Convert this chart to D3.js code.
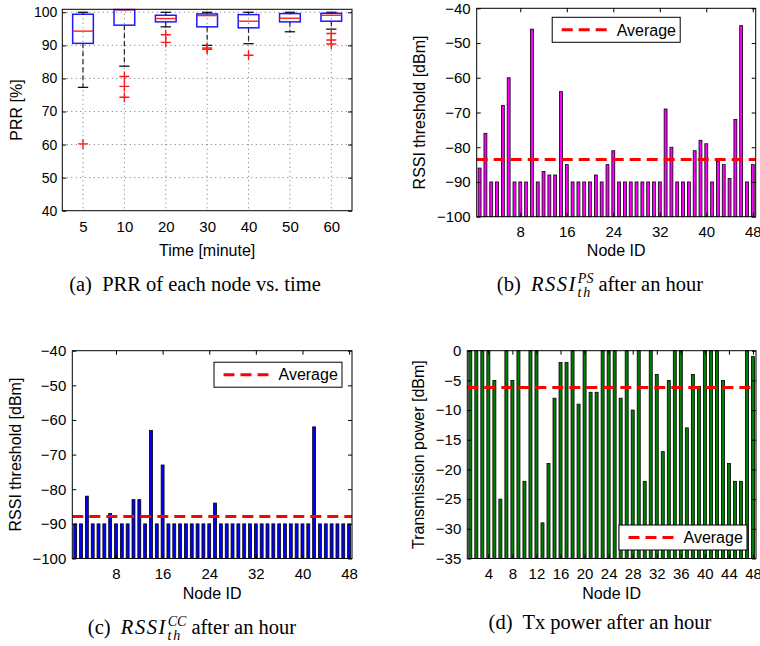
<!DOCTYPE html>
<html>
<head>
<meta charset="utf-8">
<script src="https://cdn.jsdelivr.net/npm/d3@7"></script>
<style>
  body { margin: 0; background: #fff; }
  svg text { font-family: "Liberation Sans", Arial, sans-serif; }
  .cap { font-family: "Liberation Serif", "Times New Roman", serif; font-size: 20.5px; white-space: pre; }
</style>
</head>
<body>
<svg id="fig" width="760" height="646"></svg>
<script>
// ---- (a) PRR boxplot ----
const times = ["5", "10", "20", "30", "40", "50", "60"];
const prrQ1 = [90.6, 96.1, 97.1, 95.6, 95.3, 97.1, 97.3];
const prrMed = [94.3, 100.8, 98.1, 99.0, 97.3, 98.2, 99.1];
const prrQ3 = [99.4, 100.8, 99.1, 99.5, 99.3, 99.6, 99.7];
const prrLo = [77.3, 83.7, 95.6, 90.0, 90.5, 94.1, 94.9];
const prrHi = [100, 100.8, 100, 100, 100, 100, 100];
const prrOut = [[60.2], [80.6, 77.6, 74.3], [93.2, 90.9], [89.2, 88.8], [87.0], [], [93.6, 91.6, 90.4]];
const prrTicks = [40, 50, 60, 70, 80, 90, 100];

// ---- (b) RSSI_th^PS per node ----
const rssiPS = [-86, -76, -90, -90, -68, -60, -90, -90, -90, -46,
                -90, -87, -88, -88, -64, -85, -90, -90, -90, -90,
                -88, -90, -85, -81, -90, -90, -90, -90, -90, -90,
                -90, -90, -69, -80, -90, -90, -90, -81, -78, -79,
                -90, -84, -85, -89, -72, -45, -90, -85];

// ---- (c) RSSI_th^CC per node ----
const rssiCC = [-90, -90, -82, -90, -90, -90, -87, -90, -90, -90,
                -83, -83, -90, -63, -90, -73, -90, -90, -90, -90,
                -90, -90, -90, -90, -84, -90, -90, -90, -90, -90,
                -90, -90, -90, -90, -90, -90, -90, -90, -90, -90,
                -90, -62, -90, -90, -90, -90, -90, -90];

// ---- (d) Tx power per node ----
const txPower = [0, 0, 0, 0, -5, -25, 0, -5, 0, -22,
                 0, 0, -29, -19, -8, -2, -2, 0, -9, 0,
                 -7, -7, 0, 0, 0, -8, 0, -10, 0, -22,
                 0, -4, -17, -5, 0, 0, -13, -4, -6, 0,
                 0, 0, -5, -19, -22, -22, 0, -1];

const rssiTicks = [-100, -90, -80, -70, -60, -50, -40];
const txTicks = [-35, -30, -25, -20, -15, -10, -5, 0];
const nodeTicks8 = [8, 16, 24, 32, 40, 48];
const nodeTicks4 = [4, 8, 12, 16, 20, 24, 28, 32, 36, 40, 44, 48];

const svg = d3.select("#fig");
svg.append("rect").attr("width", 760).attr("height", 646).attr("fill", "#fff");

function axes(p, x, y, xt, yt, opt) {
  const g = svg.append("g");
  const o = Object.assign({ xFmt: null, xTick: -4, xPad: 10, yPad: 6, xFs: 15, yFs: 15 }, opt);
  const bx = g.append("g").attr("transform", `translate(0,${p.b})`)
    .call(d3.axisBottom(x).tickValues(xt).tickSizeInner(o.xTick).tickSizeOuter(0).tickPadding(o.xPad).tickFormat(o.xFmt));
  const lx = g.append("g").attr("transform", `translate(${p.l},0)`)
    .call(d3.axisLeft(y).tickValues(yt).tickSizeInner(-4).tickSizeOuter(0).tickPadding(o.yPad));
  g.append("g").attr("transform", `translate(0,${p.t})`)
    .call(d3.axisTop(x).tickValues(xt).tickSizeInner(o.xTick).tickSizeOuter(0).tickFormat(""));
  g.append("g").attr("transform", `translate(${p.r},0)`)
    .call(d3.axisRight(y).tickValues(yt).tickSizeInner(-4).tickSizeOuter(0).tickFormat(""));
  g.selectAll(".domain").remove();
  g.selectAll("g").attr("font-family", null);
  bx.attr("font-size", o.xFs);
  lx.attr("font-size", o.yFs);
  g.selectAll("text").attr("fill", "#000");
  g.append("rect").attr("x", p.l).attr("y", p.t).attr("width", p.r - p.l).attr("height", p.b - p.t)
    .attr("fill", "none").attr("stroke", "#000").attr("stroke-width", 1);
  return g;
}

function labels(p, xl, yl, yx, xy) {
  svg.append("text").attr("x", (p.l + p.r) / 2).attr("y", xy).attr("text-anchor", "middle")
    .attr("font-size", 16).text(xl);
  svg.append("text").attr("transform", `translate(${yx},${(p.t + p.b) / 2}) rotate(-90)`)
    .attr("text-anchor", "middle").attr("dy", "0.35em").attr("font-size", 16).text(yl);
}

function legend(x0, y0) {
  const g = svg.append("g");
  g.append("rect").attr("x", x0).attr("y", y0).attr("width", 128).attr("height", 25)
    .attr("fill", "#fff").attr("stroke", "#000").attr("stroke-width", 1);
  g.append("line").attr("x1", x0 + 9.5).attr("x2", x0 + 58).attr("y1", y0 + 12.5).attr("y2", y0 + 12.5)
    .attr("stroke", "#f00").attr("stroke-width", 3).attr("stroke-dasharray", "11,6");
  g.append("text").attr("x", x0 + 64.5).attr("y", y0 + 12.5).attr("dy", "0.36em")
    .attr("font-size", 16).text("Average");
}

function barPanel(p, vals, yDom, yt, xt, color, legendPos) {
  const x = d3.scaleLinear().domain([0.5, 48.5]).range([p.l, p.r]);
  const y = d3.scaleLinear().domain(yDom).range([p.b, p.t]);
  const w = x(1.5) - x(1);
  svg.append("g").selectAll("rect").data(vals).join("rect")
    .attr("x", (d, i) => x(i + 1) - w / 2)
    .attr("width", w)
    .attr("y", d => y(d))
    .attr("height", d => p.b - y(d))
    .attr("fill", color).attr("stroke", "#000").attr("stroke-width", 0.8);
  const avg = d3.mean(vals);
  svg.append("line").attr("x1", p.l).attr("x2", p.r).attr("y1", y(avg)).attr("y2", y(avg))
    .attr("stroke", "#f00").attr("stroke-width", 3).attr("stroke-dasharray", "11,6");
  axes(p, x, y, xt, yt, { xPad: 10, yPad: 6 });
  legend(legendPos(p)[0], legendPos(p)[1]);
}

// ---------- panel (a) ----------
const pa = { l: 62.3, r: 352, t: 9.3, b: 210.7 };
const xa = d3.scaleLinear().domain([0.5, 7.5]).range([pa.l, pa.r]);
const ya = d3.scaleLinear().domain([40, 100.9]).range([pa.b, pa.t]);
const grid = svg.append("g").attr("stroke", "#000").attr("stroke-opacity", 0.55)
  .attr("stroke-dasharray", "1,3.5").attr("stroke-width", 1);
grid.selectAll(".h").data(prrTicks.slice(1)).join("line")
  .attr("x1", pa.l).attr("x2", pa.r).attr("y1", d => ya(d)).attr("y2", d => ya(d));
grid.selectAll(".v").data(times).join("line")
  .attr("x1", (d, i) => xa(i + 1)).attr("x2", (d, i) => xa(i + 1)).attr("y1", pa.t).attr("y2", pa.b);

const boxW = xa(1.25) - xa(1);
const capW = xa(1.125) - xa(1);
const bx = svg.append("g").selectAll("g").data(times).join("g");
bx.each(function (d, i) {
  const g = d3.select(this), cx = xa(i + 1);
  g.append("line").attr("x1", cx).attr("x2", cx).attr("y1", ya(prrQ1[i])).attr("y2", ya(prrLo[i]))
    .attr("stroke", "#222").attr("stroke-width", 1.2).attr("stroke-dasharray", "5,3");
  g.append("line").attr("x1", cx).attr("x2", cx).attr("y1", ya(prrQ3[i])).attr("y2", ya(prrHi[i]))
    .attr("stroke", "#222").attr("stroke-width", 1.2).attr("stroke-dasharray", "5,3");
  [prrLo[i], prrHi[i]].forEach(v => g.append("line")
    .attr("x1", cx - capW).attr("x2", cx + capW).attr("y1", ya(v)).attr("y2", ya(v))
    .attr("stroke", "#000").attr("stroke-width", 1.2));
  g.append("rect").attr("x", cx - boxW).attr("width", 2 * boxW)
    .attr("y", ya(prrQ3[i])).attr("height", ya(prrQ1[i]) - ya(prrQ3[i]))
    .attr("fill", "none").attr("stroke", "#1a1aff").attr("stroke-width", 1.5);
  g.append("line").attr("x1", cx - boxW).attr("x2", cx + boxW).attr("y1", ya(prrMed[i])).attr("y2", ya(prrMed[i]))
    .attr("stroke", "#ff2020").attr("stroke-width", 1.4);
  prrOut[i].forEach(v => {
    g.append("path").attr("d", `M${cx - 5},${ya(v)}h10M${cx},${ya(v) - 5}v10`)
      .attr("stroke", "#ff1a1a").attr("stroke-width", 1.4).attr("fill", "none");
  });
});
axes(pa, xa, ya, d3.range(1, 8), prrTicks,
  { xFmt: (d) => times[d - 1], xTick: 0, xPad: 11, yPad: 5, xFs: 15, yFs: 14 });
labels(pa, "Time [minute]", "PRR [%]", 16, 256);

// ---------- panel (b) ----------
const pb = { l: 476.7, r: 755.7, t: 8.3, b: 216.7 };
barPanel(pb, rssiPS, [-100, -40], rssiTicks, nodeTicks8, "#ff00ff",
  p => [(p.l + p.r) / 2 - 64, p.t + 9]);
labels(pb, "Node ID", "RSSI threshold [dBm]", 419, 256);

// ---------- panel (c) ----------
const pc = { l: 72.3, r: 352, t: 350.7, b: 558.5 };
barPanel(pc, rssiCC, [-100, -40], rssiTicks, nodeTicks8, "#0000ff",
  p => [p.r - 10 - 128, p.t + 11.5]);
labels(pc, "Node ID", "RSSI threshold [dBm]", 15, 599);

// ---------- panel (d) ----------
const pd = { l: 467.3, r: 756, t: 350.7, b: 558.5 };
barPanel(pd, txPower, [-35, 0], txTicks, nodeTicks4, "#008000",
  p => [p.r - 9 - 128, p.b - 8.5 - 25]);
labels(pd, "Node ID", "Transmission power [dBm]", 418.5, 599);

// ---------- captions ----------
svg.append("text").attr("class", "cap").attr("x", 195).attr("y", 291).attr("text-anchor", "middle")
  .text("(a)  PRR of each node vs. time");

function mathCap(x, y, label, sup, supW, rest) {
  const t = svg.append("text").attr("class", "cap").attr("x", x).attr("y", y).attr("text-anchor", "middle");
  t.append("tspan").text(label + "  ");
  t.append("tspan").attr("font-style", "italic").attr("letter-spacing", 1.5).text("RSSI");
  t.append("tspan").attr("font-style", "italic").attr("font-size", 14).attr("dy", -8).attr("dx", 1).text(sup);
  t.append("tspan").attr("font-style", "italic").attr("font-size", 14).attr("dy", 14).attr("dx", -supW)
    .attr("letter-spacing", 2).text("th");
  t.append("tspan").attr("dy", -6).attr("dx", Math.max(supW - 15, 0)).text(rest);
}
mathCap(600, 291, "(b)", "PS", 16, " after an hour");
mathCap(192, 634, "(c)", "CC", 19, " after an hour");
svg.append("text").attr("class", "cap").attr("x", 600).attr("y", 629).attr("text-anchor", "middle")
  .text("(d)  Tx power after an hour");
</script>
</body>
</html>
